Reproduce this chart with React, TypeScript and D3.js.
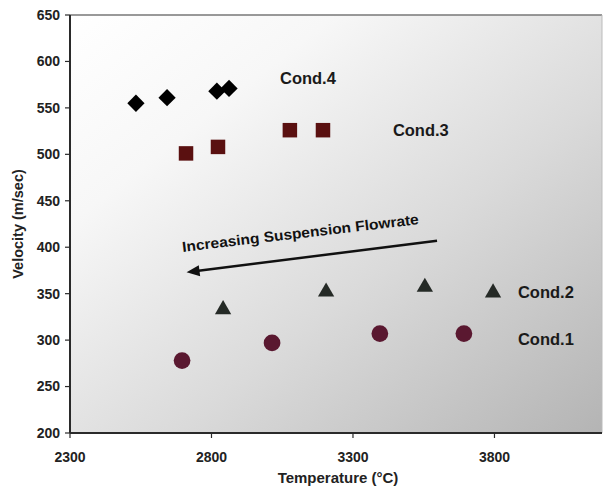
import React from "react";
import * as d3 from "d3";

// values
const cond1Temp = [2696, 3014, 3395, 3692];
const cond1Vel = [278, 297, 307, 307];
const cond2Temp = [2841, 3205, 3554, 3795];
const cond2Vel = [333, 352, 357, 351];
const cond3Temp = [2710, 2823, 3077, 3194];
const cond3Vel = [501, 508, 526, 526];
const cond4Temp = [2533, 2643, 2819, 2862];
const cond4Vel = [555, 561, 568, 571];

const xTicks = [2300, 2800, 3300, 3800];
const yTicks = [200, 250, 300, 350, 400, 450, 500, 550, 600, 650];

const condLabels = ["Cond.1", "Cond.2", "Cond.3", "Cond.4"];
const labelTemp = [3883, 3883, 3441, 3042];
const labelVel = [301, 352, 526, 582];

// arrow: tail -> head, in data units
const arrowTemp = [3597, 2712];
const arrowVel = [407, 373];

const W = 604, H = 492;
const margin = { top: 15, right: 2, bottom: 59, left: 70 };
const font = "Arial, 'Liberation Sans', sans-serif";

export default function App() {
  const x = d3.scaleLinear().domain([2300, 4180]).range([margin.left, W - margin.right]);
  const y = d3.scaleLinear().domain([200, 650]).range([H - margin.bottom, margin.top]);
  const x0 = x.range()[0], x1 = x.range()[1];
  const y0 = y.range()[0], y1 = y.range()[1];

  const diamond = d3.symbol().type(d3.symbolDiamond2).size(190)();
  const square = d3.symbol().type(d3.symbolSquare).size(210)();
  const triangle = d3.symbol().type(d3.symbolTriangle).size(115)();
  const circle = d3.symbol().type(d3.symbolCircle).size(220)();

  const series = [
    { t: cond1Temp, v: cond1Vel, path: circle, fill: "#5a1830" },
    { t: cond2Temp, v: cond2Vel, path: triangle, fill: "#252a26" },
    { t: cond3Temp, v: cond3Vel, path: square, fill: "#5a1010" },
    { t: cond4Temp, v: cond4Vel, path: diamond, fill: "#000" },
  ];

  const ax = x(arrowTemp[0]), ay = y(arrowVel[0]);
  const bx = x(arrowTemp[1]), by = y(arrowVel[1]);
  const ang = Math.atan2(by - ay, bx - ax);
  const hl = 13, hw = 5.5;
  const head = [
    [bx, by],
    [bx - hl * Math.cos(ang) + hw * Math.sin(ang), by - hl * Math.sin(ang) - hw * Math.cos(ang)],
    [bx - hl * Math.cos(ang) - hw * Math.sin(ang), by - hl * Math.sin(ang) + hw * Math.cos(ang)],
  ];

  return (
    <svg width={W} height={H} style={{ position: "absolute", left: 0, top: 0, background: "#fff" }}>
      <defs>
        <linearGradient id="bg" x1="0" y1="0" x2="1" y2="1">
          <stop offset="0" stopColor="#ffffff" />
          <stop offset="0.25" stopColor="#f7f7f7" />
          <stop offset="0.6" stopColor="#dadada" />
          <stop offset="1" stopColor="#b4b4b4" />
        </linearGradient>
      </defs>
      <rect x={x0} y={y1} width={x1 - x0} height={y0 - y1} fill="url(#bg)" />
      <line x1={x0} x2={x1} y1={y1} y2={y1} stroke="#777" strokeWidth={1.5} />
      <line x1={x1} x2={x1} y1={y1} y2={y0} stroke="#bbb" strokeWidth={1} />
      <line x1={x0} x2={x1} y1={y0} y2={y0} stroke="#2a2a2a" strokeWidth={2} />
      <line x1={x0} x2={x0} y1={y1} y2={y0} stroke="#2a2a2a" strokeWidth={2} />

      {yTicks.map((t) => (
        <g key={t}>
          <line x1={x0 - 5} x2={x0} y1={y(t)} y2={y(t)} stroke="#2a2a2a" strokeWidth={1.2} />
          <text x={x0 - 10} y={y(t)} dy="0.35em" textAnchor="end" fontFamily={font}
            fontWeight="bold" fontSize={14} fill="#222">{t}</text>
        </g>
      ))}
      {xTicks.map((t) => (
        <g key={t}>
          <line x1={x(t)} x2={x(t)} y1={y0} y2={y0 + 5} stroke="#2a2a2a" strokeWidth={1.2} />
          <text x={x(t)} y={y0 + 29} textAnchor="middle" fontFamily={font}
            fontWeight="bold" fontSize={14} fill="#222">{t}</text>
        </g>
      ))}

      <text x={(x0 + x1) / 2 + 2} y={H - 9} textAnchor="middle" fontFamily={font}
        fontWeight="bold" fontSize={15} fill="#222">Temperature (°C)</text>
      <text transform={`translate(23,${(y0 + y1) / 2}) rotate(-90)`} textAnchor="middle"
        fontFamily={font} fontWeight="bold" fontSize={14.5} fill="#222">Velocity (m/sec)</text>

      {series.map((s, i) =>
        s.t.map((t, j) => (
          <path key={i + "-" + j} d={s.path} fill={s.fill}
            transform={`translate(${x(t)},${y(s.v[j])})`} />
        ))
      )}

      {condLabels.map((c, i) => (
        <text key={c} x={x(labelTemp[i])} y={y(labelVel[i])} dy="0.35em" fontFamily={font}
          fontWeight="bold" fontSize={16.5} fill="#1a1a1a">{c}</text>
      ))}

      <line x1={ax} y1={ay} x2={bx - 8 * Math.cos(ang)} y2={by - 8 * Math.sin(ang)}
        stroke="#111" strokeWidth={2.5} />
      <polygon points={head.map((p) => p.join(",")).join(" ")} fill="#111" />
      <text transform={`translate(301,238) rotate(-6.7)`} textAnchor="middle" fontFamily={font}
        fontWeight="bold" fontSize={14.5} textLength={238} lengthAdjust="spacingAndGlyphs"
        fill="#111">Increasing Suspension Flowrate</text>
    </svg>
  );
}
